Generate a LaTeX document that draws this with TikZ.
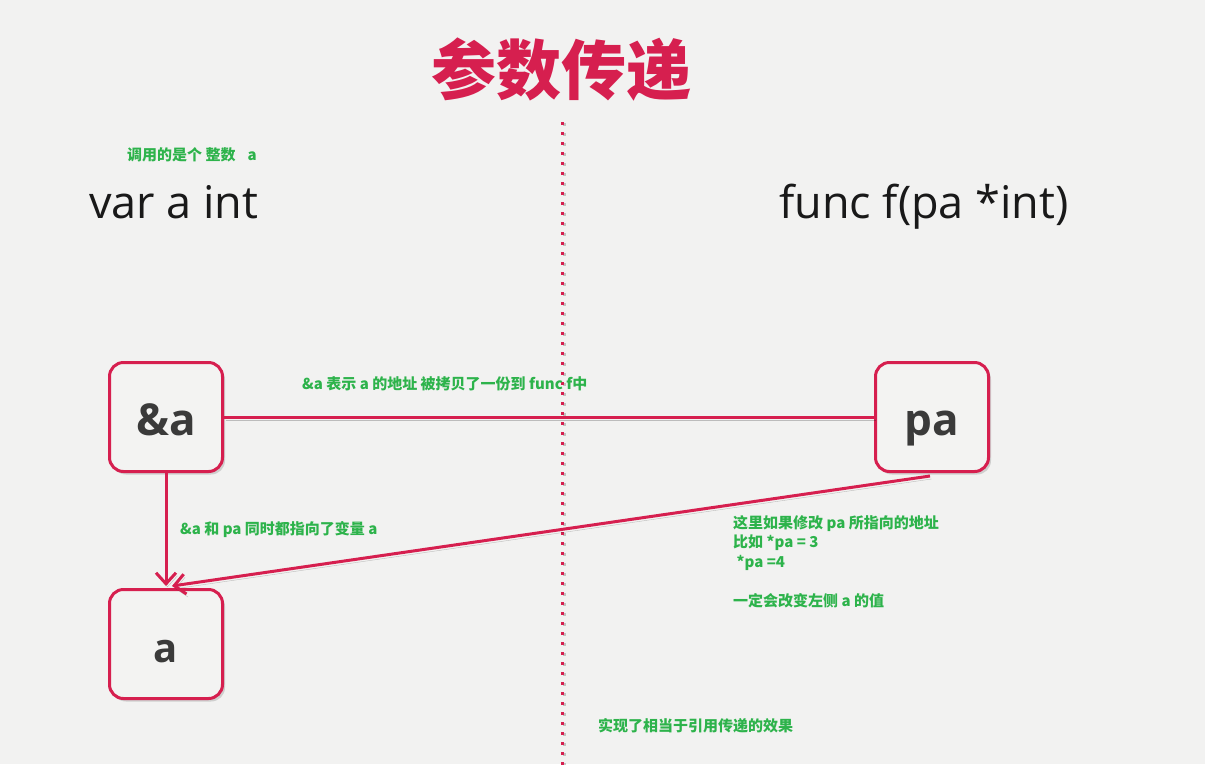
\documentclass[tikz,border=0pt]{standalone}
\usepackage{fontspec}
\setmainfont{Open Sans}
\newfontfamily\cjk{Noto Sans CJK SC}
\usetikzlibrary{arrows.meta,shadows}
\definecolor{bg}{HTML}{F2F2F1}
\definecolor{boxbg}{HTML}{F3F3F2}
\definecolor{crim}{HTML}{D61F4F}
\definecolor{grn}{HTML}{2DB34B}
\definecolor{dk}{HTML}{3A3A3A}
\tikzset{
  varbox/.style={draw=crim, line width=3pt, rounded corners=14pt, fill=boxbg,
    minimum width=113pt, minimum height=109pt, inner sep=0pt, text=dk,
    text height=36pt, text depth=0pt,
    drop shadow={shadow xshift=2.5pt, shadow yshift=-3pt, opacity=0.3}},
  conn/.style={draw=crim, line width=3pt,
    preaction={draw=black, opacity=0.22, transform canvas={shift={(1.5pt,-3pt)}}}},
  note/.style={text=grn, font=\cjk\bfseries\fontsize{15}{19.7}\selectfont, inner sep=0pt},
  big/.style={font=\fontsize{45}{50}\selectfont, text=black!90, inner sep=0pt},
  tip/.style={-{Straight Barb[length=11pt,width=20pt,line width=3pt]}}
}
\begin{document}
\begin{tikzpicture}[x=1pt,y=-1pt]
\fill[bg] (0,0) rectangle (1205,764);
\useasboundingbox (0,0) rectangle (1205,764);

% title
\node[text=crim, font=\cjk\bfseries\fontsize{65}{65}\selectfont, inner sep=0pt] (title) at (561,70) {参数传递};

% dotted divider
\coordinate (dtop) at (562,122);
\coordinate (dbot) at (562,768);
\draw[black, opacity=0.2, line width=3pt, dash pattern=on 3pt off 7pt] ([xshift=2pt,yshift=-1pt]dtop) -- ([xshift=2pt,yshift=-1pt]dbot);
\draw[crim, line width=3pt, dash pattern=on 3pt off 7pt] (dtop) -- (dbot);

% headings
\node[note, anchor=west] (n1) at (127,155) {调用的是个 整数\hspace{0.8em}a};
\node[big, anchor=base west] (va) at (89,218) {var a int};
\node[big, anchor=base west] (fn) at (779,218) {func f(pa *int)};

% boxes
\node[varbox, font=\bfseries\fontsize{44}{44}\selectfont] (A) at (166,417) {\&a};
\node[varbox, font=\bfseries\fontsize{44}{44}\selectfont] (P) at (932,417) {pa};
\node[varbox, font=\bfseries\fontsize{40}{40}\selectfont] (B) at (166,644) {a};

% connectors
\draw[conn] (A.east) -- (P.west);
\draw[conn, tip] (A.south) -- ([yshift=2pt]B.north);
\draw[conn, tip] ([xshift=-2pt,yshift=-3pt]P.south) -- ([xshift=6pt,yshift=2pt]B.north);

% notes
\node[note, anchor=west] (n2) at (302,384) {\&a 表示 a 的地址 被拷贝了一份到 func f中};
\node[note, anchor=west] (n3) at (180,530) {\&a 和 pa 同时都指向了变量 a};
\node[note, anchor=north west, align=left] (n4) at (733,515) {这里如果修改 pa 所指向的地址\\比如 *pa = 3\\\ *pa =4\\[19.7pt]一定会改变左侧 a 的值};
\node[note, anchor=west] (n5) at (598,726) {实现了相当于引用传递的效果};
\end{tikzpicture}
\end{document}
